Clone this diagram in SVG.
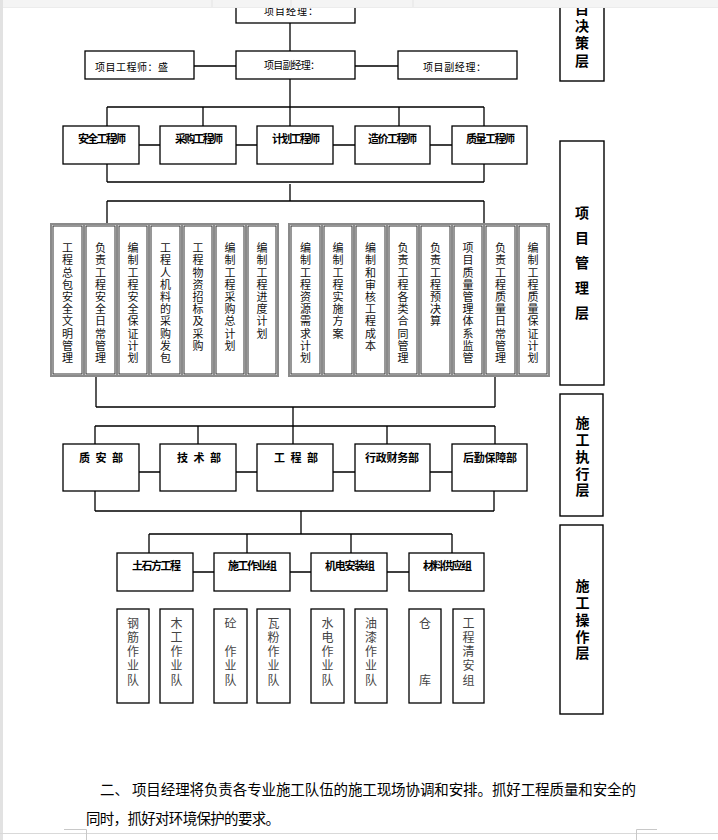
<svg xmlns="http://www.w3.org/2000/svg" width="718" height="840" viewBox="0 0 718 840">
<style>
.bx{fill:#fff;stroke:#000;stroke-width:1.3}
.lb{fill:#fff;stroke:#000;stroke-width:1.4}
.to{fill:#fff;stroke:#8a8a8a;stroke-width:2}
.ti{fill:none;stroke:#303030;stroke-width:1}
.cn{fill:none;stroke:#000;stroke-width:1.3}
text{font-family:"Noto Sans CJK SC","Liberation Sans",sans-serif;fill:#000}
.h{dominant-baseline:central}
.t10{font-size:10px;text-anchor:middle}
.tb{font-size:11px;font-weight:bold;text-anchor:middle}
.v{writing-mode:vertical-rl;text-anchor:start}
.tv{font-size:11px;fill:#111;letter-spacing:1.2px}
.ts{font-size:12px;fill:#444;letter-spacing:2.3px}
.tl{font-size:14px;font-weight:bold}
.tp{font-size:14.5px}
</style>
<rect x="0" y="0" width="718" height="840" fill="#fff"/>

<g id="connectors" class="cn">
<path d="M290 23V51"/>
<path d="M194 66H236M355 66H398"/>
<path d="M290 79V107M107 107H484M107 107V126M203 107V126M290 107V126M399 107V126M484 107V126"/>
<path d="M139 145H160M236 145H257M333 145H355M430 145H452"/>
<path d="M107 164V182M484 164V182M107 182H484M290 184V201M107 201H484M107 201V224M484 201V224"/>
<path d="M96 376V407M495 376V407M96 407H495M293 407V426M95 426H495M95 426V444M198 426V444M293 426V444M387 426V444M495 426V444"/>
<path d="M139 472H160M236 472H257M333 472H355M430 472H452"/>
<path d="M95 491V511M494 491V511M95 511H494M301 511V534M149 534H452M149 534V553M247 534V553M351 534V553M452 534V553"/>
<path d="M193 572H214M290 572H311M387 572H409"/>
</g>

<g id="n-pm"><rect class="bx" x="236" y="-6" width="119" height="29"/><text class="h t10" x="291" y="10" textLength="54" lengthAdjust="spacing">项目经理：</text></g>
<g id="n-pe"><rect class="bx" x="85" y="51" width="109" height="28"/><text class="h t10" x="131.5" y="66" textLength="73" lengthAdjust="spacing">项目工程师：盛</text></g>
<g id="n-dpm1"><rect class="bx" x="236" y="51" width="119" height="28"/><text class="h t10" x="292" y="64" textLength="56" lengthAdjust="spacing">项目副经理：</text></g>
<g id="n-dpm2"><rect class="bx" x="398" y="51" width="119" height="28"/><text class="h t10" x="454.5" y="66" textLength="63" lengthAdjust="spacing">项目副经理：</text></g>

<g id="n-safe-eng"><rect class="bx" x="63" y="126" width="76" height="38"/><text class="h tb" x="102" y="138" textLength="48" lengthAdjust="spacing">安全工程师</text></g>
<g id="n-buy-eng"><rect class="bx" x="160" y="126" width="76" height="38"/><text class="h tb" x="199" y="138" textLength="48" lengthAdjust="spacing">采购工程师</text></g>
<g id="n-plan-eng"><rect class="bx" x="257" y="126" width="76" height="38"/><text class="h tb" x="296" y="138" textLength="48" lengthAdjust="spacing">计划工程师</text></g>
<g id="n-cost-eng"><rect class="bx" x="355" y="126" width="75" height="38"/><text class="h tb" x="392.5" y="138" textLength="49" lengthAdjust="spacing">造价工程师</text></g>
<g id="n-qual-eng"><rect class="bx" x="452" y="126" width="75" height="38"/><text class="h tb" x="490.5" y="138" textLength="49" lengthAdjust="spacing">质量工程师</text></g>

<g id="n-tasks-left">
<rect class="to" x="51" y="224" width="33" height="152"/><rect class="ti" x="53" y="226" width="29" height="148"/>
<rect class="to" x="84" y="224" width="33" height="152"/><rect class="ti" x="86" y="226" width="29" height="148"/>
<rect class="to" x="117" y="224" width="32" height="152"/><rect class="ti" x="119" y="226" width="28" height="148"/>
<rect class="to" x="149" y="224" width="33" height="152"/><rect class="ti" x="151" y="226" width="29" height="148"/>
<rect class="to" x="182" y="224" width="32" height="152"/><rect class="ti" x="184" y="226" width="28" height="148"/>
<rect class="to" x="214" y="224" width="32" height="152"/><rect class="ti" x="216" y="226" width="28" height="148"/>
<rect class="to" x="246" y="224" width="32" height="152"/><rect class="ti" x="248" y="226" width="28" height="148"/>
<text class="v tv" x="67.5" y="242.5">工程总包安全文明管理</text>
<text class="v tv" x="100.5" y="242.5">负责工程安全日常管理</text>
<text class="v tv" x="133" y="242.5">编制工程安全保证计划</text>
<text class="v tv" x="165.5" y="242.5">工程人机料的采购发包</text>
<text class="v tv" x="198" y="242.5">工程物资招标及采购</text>
<text class="v tv" x="230" y="242.5">编制工程采购总计划</text>
<text class="v tv" x="262" y="242.5">编制工程进度计划</text>
</g>

<g id="n-tasks-right">
<rect class="to" x="289" y="224" width="33" height="152"/><rect class="ti" x="291" y="226" width="29" height="148"/>
<rect class="to" x="322" y="224" width="32" height="152"/><rect class="ti" x="324" y="226" width="28" height="148"/>
<rect class="to" x="354" y="224" width="33" height="152"/><rect class="ti" x="356" y="226" width="29" height="148"/>
<rect class="to" x="387" y="224" width="32" height="152"/><rect class="ti" x="389" y="226" width="28" height="148"/>
<rect class="to" x="419" y="224" width="33" height="152"/><rect class="ti" x="421" y="226" width="29" height="148"/>
<rect class="to" x="452" y="224" width="32" height="152"/><rect class="ti" x="454" y="226" width="28" height="148"/>
<rect class="to" x="484" y="224" width="33" height="152"/><rect class="ti" x="486" y="226" width="29" height="148"/>
<rect class="to" x="517" y="224" width="32" height="152"/><rect class="ti" x="519" y="226" width="28" height="148"/>
<text class="v tv" x="305.5" y="242.5">编制工程资源需求计划</text>
<text class="v tv" x="338" y="242.5">编制工程实施方案</text>
<text class="v tv" x="370.5" y="242.5">编制和审核工程成本</text>
<text class="v tv" x="403" y="242.5">负责工程各类合同管理</text>
<text class="v tv" x="435.5" y="242.5">负责工程预决算</text>
<text class="v tv" x="468" y="242.5">项目质量管理体系监管</text>
<text class="v tv" x="500.5" y="242.5">负责工程质量日常管理</text>
<text class="v tv" x="533" y="242.5">编制工程质量保证计划</text>
</g>

<g id="n-qa-dept"><rect class="bx" x="63" y="444" width="76" height="47"/><text class="h tb" x="101" y="457" textLength="44" lengthAdjust="spacing">质 安 部</text></g>
<g id="n-tech-dept"><rect class="bx" x="160" y="444" width="76" height="47"/><text class="h tb" x="199" y="457" textLength="44" lengthAdjust="spacing">技 术 部</text></g>
<g id="n-eng-dept"><rect class="bx" x="257" y="444" width="76" height="47"/><text class="h tb" x="296" y="457" textLength="44" lengthAdjust="spacing">工 程 部</text></g>
<g id="n-admin-dept"><rect class="bx" x="355" y="444" width="75" height="47"/><text class="h tb" x="392" y="457" textLength="54" lengthAdjust="spacing">行政财务部</text></g>
<g id="n-log-dept"><rect class="bx" x="452" y="444" width="75" height="47"/><text class="h tb" x="490" y="457" textLength="54" lengthAdjust="spacing">后勤保障部</text></g>

<g id="n-earth"><rect class="bx" x="117" y="553" width="76" height="38"/><text class="h tb" x="156.5" y="565" textLength="49" lengthAdjust="spacing">土石方工程</text></g>
<g id="n-work"><rect class="bx" x="214" y="553" width="76" height="38"/><text class="h tb" x="252.5" y="565" textLength="49" lengthAdjust="spacing">施工作业组</text></g>
<g id="n-mep"><rect class="bx" x="311" y="553" width="76" height="38"/><text class="h tb" x="350" y="565" textLength="50" lengthAdjust="spacing">机电安装组</text></g>
<g id="n-mat"><rect class="bx" x="409" y="553" width="75" height="38"/><text class="h tb" x="447.5" y="565" textLength="49" lengthAdjust="spacing">材料供应组</text></g>

<g id="n-team-rebar"><rect class="bx" x="117" y="609" width="32" height="94"/><text class="v ts" x="133" y="617">钢筋作业队</text></g>
<g id="n-team-wood"><rect class="bx" x="160" y="609" width="33" height="94"/><text class="v ts" x="176.5" y="617">木工作业队</text></g>
<g id="n-team-conc"><rect class="bx" x="214" y="609" width="33" height="94"/><text class="v ts" x="230.5" y="617">砼　作业队</text></g>
<g id="n-team-tile"><rect class="bx" x="257" y="609" width="33" height="94"/><text class="v ts" x="273.5" y="617">瓦粉作业队</text></g>
<g id="n-team-elec"><rect class="bx" x="311" y="609" width="33" height="94"/><text class="v ts" x="327.5" y="617">水电作业队</text></g>
<g id="n-team-paint"><rect class="bx" x="355" y="609" width="32" height="94"/><text class="v ts" x="371" y="617">油漆作业队</text></g>
<g id="n-store"><rect class="bx" x="409" y="609" width="32" height="94"/><text class="v ts" x="425" y="617">仓　　　库</text></g>
<g id="n-clean"><rect class="bx" x="453" y="609" width="31" height="94"/><text class="v ts" x="468.5" y="617">工程清安组</text></g>

<g id="n-layer-decision"><rect class="lb" x="560" y="-6" width="44" height="87"/><text class="v tl" x="582" y="-15.75" style="letter-spacing:3.25px">项目决策层</text></g>
<g id="n-layer-manage"><rect class="lb" x="560" y="141" width="44" height="244"/><text class="v tl" x="582" y="206" style="letter-spacing:11px">项目管理层</text></g>
<g id="n-layer-exec"><rect class="lb" x="560" y="394" width="43" height="122"/><text class="v tl" x="582.5" y="416" style="letter-spacing:2.75px">施工执行层</text></g>
<g id="n-layer-op"><rect class="lb" x="560" y="525" width="43" height="189"/><text class="v tl" x="582.5" y="579" style="letter-spacing:2.75px">施工操作层</text></g>

<g id="paragraph">
<text class="h tp" x="100" y="788" textLength="536" lengthAdjust="spacing">二、 项目经理将负责各专业施工队伍的施工现场协调和安排。抓好工程质量和安全的</text>
<text class="h tp" x="86" y="817" textLength="194" lengthAdjust="spacing">同时，抓好对环境保护的要求。</text>
</g>

<g id="page-chrome">
<rect x="0" y="0" width="718" height="7" fill="#f4f4f4"/>
<rect x="0" y="7" width="718" height="1" fill="#ececec"/>
<path d="M212 0V7M291 0V7M413 0V7" stroke="#e4e4e4" stroke-width="1"/>
<rect x="0" y="0" width="3" height="840" fill="#e2e2e2"/>
<path d="M0 833.5H718" stroke="#d9d9d9" stroke-width="1"/>
<path d="M64 829.5H86.5V840M657 829.5H636.5V840" fill="none" stroke="#c8c8c8" stroke-width="1"/>
</g>
</svg>
